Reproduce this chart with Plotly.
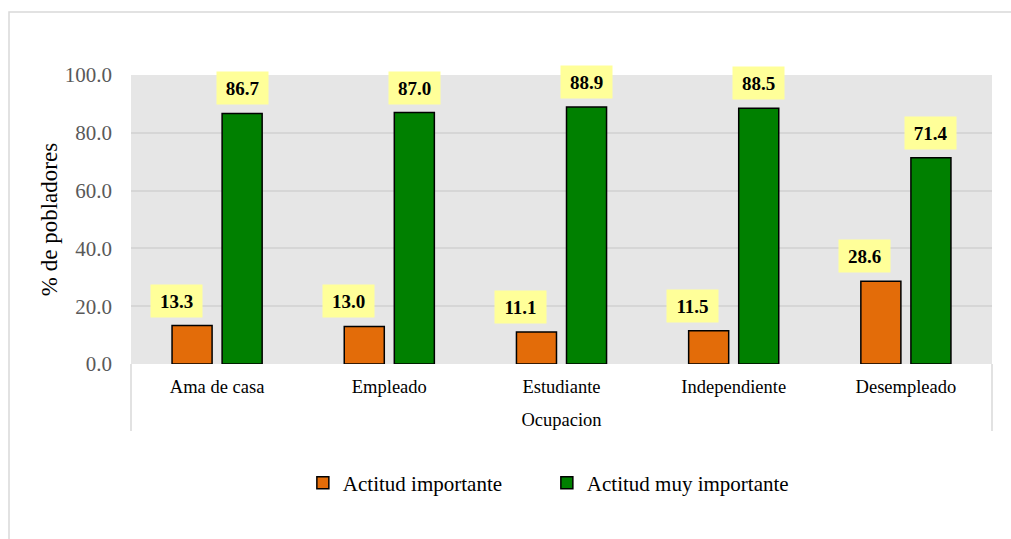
import plotly.graph_objects as go

# Occupation categories and percentages for each attitude level
ocupaciones = ["Ama de casa", "Empleado", "Estudiante", "Independiente", "Desempleado"]
actitud_importante = [13.3, 13.0, 11.1, 11.5, 28.6]
actitud_muy_importante = [86.7, 87.0, 88.9, 88.5, 71.4]
y_ticks = [0, 20, 40, 60, 80, 100]

serif = "Liberation Serif"
naranja = "#E36C09"
verde = "#008000"

fig = go.Figure()
fig.add_trace(go.Bar(
    x=ocupaciones, y=actitud_importante, name="Actitud importante",
    marker=dict(color=naranja, line=dict(color="black", width=1.5)),
))
fig.add_trace(go.Bar(
    x=ocupaciones, y=actitud_muy_importante, name="Actitud muy importante",
    marker=dict(color=verde, line=dict(color="black", width=1.5)),
))

# Value labels on a pale yellow box above each bar
annotations = []
for serie, shift in ((actitud_importante, -41), (actitud_muy_importante, 25)):
    for cat, val in zip(ocupaciones, serie):
        annotations.append(dict(
            x=cat, y=val, xref="x", yref="y", text=f"<b>{val:.1f}</b>",
            showarrow=False, yanchor="bottom", xanchor="center",
            xshift=shift, yshift=8, width=49, height=30,
            bgcolor="#FFFF99", font=dict(family=serif, size=19, color="black"),
        ))

# Outer frame and category group box below the plot area
shapes = [
    dict(type="rect", xref="paper", yref="paper", x0=-0.1417, x1=1.05, y0=-0.75, y1=1.218,
         line=dict(color="#D9D9D9", width=1.5), fillcolor="rgba(0,0,0,0)", layer="below"),
    dict(type="line", xref="paper", yref="paper", x0=0, x1=0, y0=0, y1=-0.232,
         line=dict(color="#D9D9D9", width=1.5)),
    dict(type="line", xref="paper", yref="paper", x0=1, x1=1, y0=0, y1=-0.232,
         line=dict(color="#D9D9D9", width=1.5)),
]

fig.update_layout(
    width=1011, height=539,
    margin=dict(l=131, r=19, t=75, b=175, autoexpand=False),
    paper_bgcolor="white", plot_bgcolor="#E6E6E6",
    barmode="group", bargap=0.4186, bargroupgap=0.2,
    font=dict(family=serif, color="black"),
    showlegend=True,
    legend=dict(orientation="h", x=0.483, xanchor="center", y=-0.412, yanchor="middle",
                entrywidth=199, entrywidthmode="pixels",
                font=dict(family=serif, size=21, color="black"), bgcolor="rgba(0,0,0,0)"),
    annotations=annotations,
    shapes=shapes,
)
fig.update_xaxes(
    showgrid=False, showline=False, ticks="", ticklabelstandoff=9,
    tickfont=dict(family=serif, size=18.5, color="black"),
    title=dict(text="Ocupacion", font=dict(family=serif, size=18.5, color="black"), standoff=17),
    automargin=False,
)
fig.update_yaxes(
    range=[0, 100], tickvals=y_ticks, tickformat=".1f",
    showgrid=True, gridcolor="#D6D6D6", gridwidth=1.5, zeroline=False, showline=False,
    ticks="", ticklabelstandoff=18,
    tickfont=dict(family=serif, size=21, color="#595959"),
    title=dict(text="% de pobladores", font=dict(family=serif, size=23, color="black"), standoff=0),
    automargin=False,
)

fig.write_html("out.html")
